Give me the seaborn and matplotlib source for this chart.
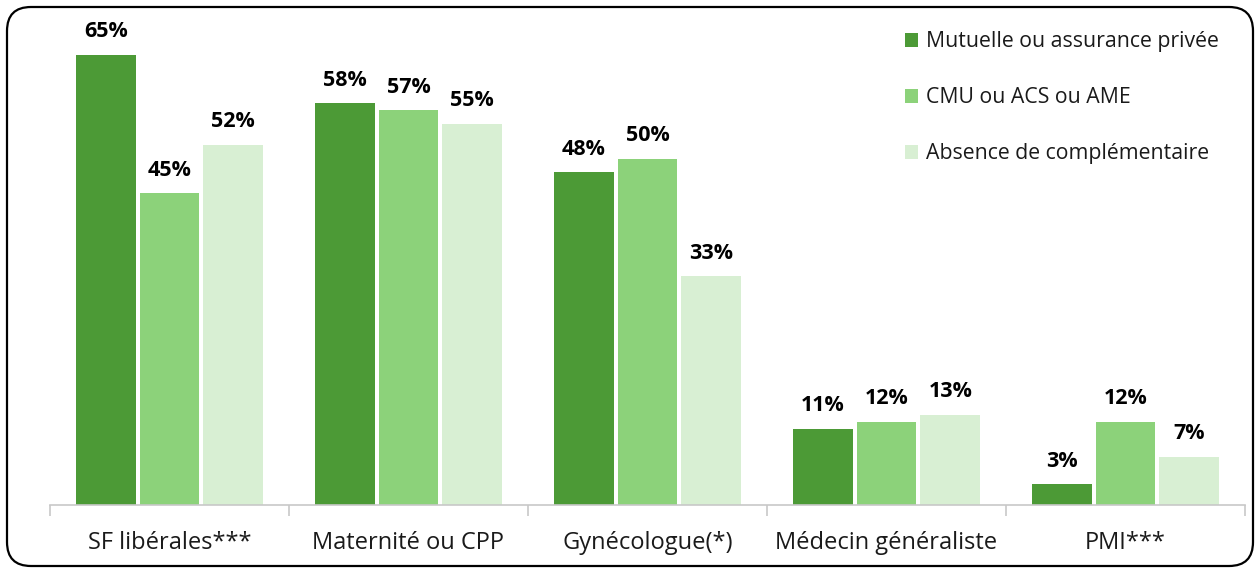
import pandas as pd
import matplotlib.pyplot as plt
import seaborn as sns
from matplotlib.patches import FancyBboxPatch

# Data
categories = ['SF libérales***', 'Maternité ou CPP', 'Gynécologue(*)',
              'Médecin généraliste', 'PMI***']
series = ['Mutuelle ou assurance privée', 'CMU ou ACS ou AME',
          'Absence de complémentaire']
mutuelle = [65, 58, 48, 11, 3]
cmu = [45, 57, 50, 12, 12]
absence = [52, 55, 33, 13, 7]
colors = ['#4C9A36', '#8CD27A', '#D8EFD3']

df = pd.DataFrame({
    'categorie': categories * 3,
    'serie': [series[0]] * 5 + [series[1]] * 5 + [series[2]] * 5,
    'valeur': mutuelle + cmu + absence,
})

sns.set_style('white')
plt.rcParams['font.family'] = ['Open Sans', 'DejaVu Sans']

fig = plt.figure(figsize=(12.55, 5.68), dpi=100)
ax = fig.add_axes([50 / 1255, 63 / 568, 1195 / 1255, 485 / 568])

sns.barplot(data=df, x='categorie', y='valeur', hue='serie',
            palette=colors, width=0.8, gap=0.06, ax=ax,
            saturation=1, edgecolor='none')

for cont in ax.containers:
    ax.bar_label(cont, fmt='%d%%', padding=9, fontsize=15.5,
                 fontweight='bold', color='black')

ax.set_ylim(0, 70)
ax.set_xlim(-0.5, 4.5)
ax.set_yticks([])
ax.set_xlabel('')
ax.set_ylabel('')
for side in ['top', 'right', 'left']:
    ax.spines[side].set_visible(False)
ax.spines['bottom'].set_color('#C8C8C8')
ax.spines['bottom'].set_linewidth(1.2)

# category labels without ticks, separators as minor ticks
ax.tick_params(axis='x', which='major', length=0, pad=19, labelsize=17,
               labelcolor='#1A1A1A')
ax.set_xticks([i - 0.5 for i in range(6)], minor=True)
ax.tick_params(axis='x', which='minor', bottom=True, length=8, width=1.2,
               color='#C8C8C8', direction='out')

leg = ax.legend(loc='upper right', bbox_to_anchor=(0.994, 1.016), frameon=False,
                fontsize=15.3, handlelength=0.65, handleheight=0.65,
                handletextpad=0.35, labelspacing=1.65)
for t in leg.get_texts():
    t.set_color('#1A1A1A')

# rounded outer frame, in pixel coordinates
frame = FancyBboxPatch((7, 2), 1246, 559,
                       boxstyle='round,pad=0,rounding_size=24',
                       transform=None, fill=False,
                       edgecolor='black', linewidth=1.6)
fig.patches.append(frame)

fig.savefig('out.png', dpi=100)
